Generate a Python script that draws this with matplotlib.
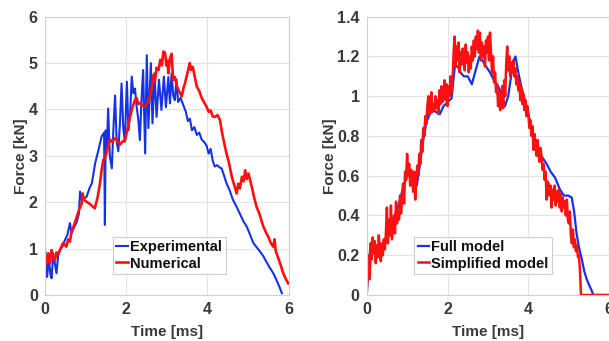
import matplotlib
matplotlib.use("Agg")
import matplotlib.pyplot as plt
import numpy as np

# ---- left panel: experiment vs numerical ----
t_exp = [0.00, 0.02, 0.06, 0.10, 0.14, 0.17, 0.21, 0.25, 0.29, 0.33, 0.38, 0.44, 0.50, 0.56,
         0.62, 0.66, 0.72, 0.79, 0.84, 0.87, 0.91, 0.97, 1.03, 1.10, 1.16, 1.24, 1.32, 1.40,
         1.46, 1.48, 1.50, 1.53, 1.56, 1.60, 1.65, 1.69, 1.73, 1.77, 1.81, 1.85, 1.89, 1.93,
         1.97, 2.02, 2.06, 2.10, 2.14, 2.18, 2.22, 2.26, 2.30, 2.34, 2.38, 2.42, 2.47, 2.51,
         2.55, 2.61, 2.65, 2.70, 2.75, 2.81, 2.87, 2.93, 2.98, 3.04, 3.08, 3.12, 3.16, 3.20,
         3.24, 3.28, 3.34, 3.41, 3.47, 3.52, 3.57, 3.62, 3.68, 3.74, 3.80, 3.86, 3.92, 3.98,
         4.03, 4.08, 4.13, 4.18, 4.24, 4.30, 4.35, 4.40, 4.47, 4.55, 4.63, 4.72, 4.80, 4.88,
         4.97, 5.05, 5.13, 5.22, 5.30, 5.38, 5.46, 5.54, 5.62, 5.70, 5.77, 5.83]
f_exp = [0.00, 0.93, 0.39, 0.80, 0.45, 0.36, 0.90, 0.68, 0.47, 0.85, 0.97, 1.05, 1.19, 1.30,
         1.55, 1.33, 1.45, 1.58, 1.75, 2.23, 2.05, 2.08, 2.12, 2.30, 2.41, 2.84, 3.12, 3.42,
         3.50, 1.51, 3.55, 3.20, 4.02, 3.00, 2.73, 3.60, 4.30, 3.30, 3.10, 3.70, 4.56, 3.63,
         3.30, 4.60, 3.55, 3.90, 4.71, 4.35, 4.45, 4.06, 3.80, 3.34, 4.20, 4.85, 3.05, 5.17,
         3.60, 5.00, 3.70, 4.78, 3.84, 4.64, 3.99, 4.71, 4.05, 4.70, 4.13, 4.78, 4.30, 4.20,
         4.65, 4.16, 4.25, 4.09, 3.95, 3.75, 3.80, 3.55, 3.62, 3.45, 3.50, 3.35, 3.30, 3.22,
         3.05, 3.15, 2.90, 2.77, 2.80, 2.75, 2.73, 2.60, 2.41, 2.25, 2.05, 1.90, 1.75, 1.60,
         1.47, 1.30, 1.12, 1.02, 0.93, 0.83, 0.70, 0.58, 0.47, 0.32, 0.18, 0.04]

t_num = [0.00, 0.03, 0.06, 0.09, 0.13, 0.17, 0.21, 0.25, 0.29, 0.33, 0.38, 0.45, 0.50, 0.53,
         0.58, 0.62, 0.66, 0.72, 0.79, 0.85, 0.91, 0.93, 0.97, 1.03, 1.10, 1.19, 1.23, 1.30,
         1.36, 1.40, 1.44, 1.48, 1.52, 1.57, 1.61, 1.66, 1.72, 1.77, 1.81, 1.85, 1.90, 1.98,
         2.04, 2.10, 2.16, 2.22, 2.26, 2.30, 2.34, 2.40, 2.47, 2.53, 2.59, 2.64, 2.68, 2.71,
         2.75, 2.80, 2.84, 2.88, 2.92, 2.96, 2.99, 3.02, 3.04, 3.08, 3.12, 3.14, 3.16, 3.20,
         3.25, 3.29, 3.33, 3.37, 3.41, 3.45, 3.50, 3.54, 3.57, 3.60, 3.64, 3.68, 3.74, 3.80,
         3.86, 3.92, 3.98, 4.03, 4.08, 4.13, 4.19, 4.25, 4.31, 4.36, 4.42, 4.47, 4.53, 4.60,
         4.65, 4.70, 4.72, 4.76, 4.80, 4.85, 4.89, 4.93, 4.97, 5.01, 5.05, 5.10, 5.15, 5.21,
         5.28, 5.33, 5.38, 5.44, 5.50, 5.56, 5.62, 5.65, 5.68, 5.74, 5.80, 5.86, 5.92, 5.99]
f_num = [0.54, 0.85, 0.70, 0.90, 0.68, 0.97, 0.80, 0.75, 0.92, 0.88, 0.98, 1.12, 1.08, 1.04,
         1.20, 1.15, 1.37, 1.50, 1.69, 1.85, 1.97, 2.19, 2.05, 2.01, 1.97, 1.90, 1.87, 2.10,
         2.41, 2.70, 2.91, 2.95, 3.06, 3.25, 3.35, 3.30, 3.38, 3.35, 3.28, 3.24, 3.30, 3.35,
         3.60, 3.85, 4.05, 4.21, 4.25, 4.12, 4.14, 4.08, 4.06, 4.15, 4.28, 4.50, 4.75, 4.60,
         4.90, 4.85, 5.07, 4.95, 5.25, 5.22, 4.95, 5.05, 4.78, 5.10, 5.20, 4.90, 4.64, 4.70,
         4.50, 4.42, 4.35, 4.28, 4.45, 4.57, 4.75, 4.90, 5.00, 4.85, 4.92, 4.75, 4.49, 4.40,
         4.25, 4.15, 4.06, 3.95, 3.98, 3.85, 3.84, 3.88, 3.77, 3.50, 3.25, 3.05, 2.85, 2.55,
         2.40, 2.25, 2.19, 2.40, 2.30, 2.55, 2.45, 2.69, 2.50, 2.62, 2.48, 2.30, 2.10, 1.90,
         1.75, 1.60, 1.47, 1.35, 1.25, 1.12, 1.04, 1.20, 0.95, 0.80, 0.65, 0.48, 0.36, 0.25]

# ---- right panel: full vs simplified model ----
t_full = [0.00, 0.05, 0.10, 0.15, 0.20, 0.25, 0.30, 0.38, 0.45, 0.52, 0.60, 0.70, 0.80, 0.90,
          1.00, 1.08, 1.16, 1.24, 1.32, 1.40, 1.48, 1.56, 1.64, 1.72, 1.81, 1.90, 2.00, 2.10,
          2.18, 2.25, 2.32, 2.40, 2.50, 2.60, 2.68, 2.79, 2.86, 2.95, 3.05, 3.15, 3.25, 3.35,
          3.42, 3.50, 3.57, 3.63, 3.68, 3.74, 3.82, 3.90, 3.97, 4.05, 4.15, 4.25, 4.35, 4.45,
          4.55, 4.66, 4.78, 4.88, 4.99, 5.07, 5.13, 5.19, 5.25, 5.32, 5.38, 5.44, 5.50, 5.57,
          5.60, 6.00]
f_full = [0.00, 0.15, 0.26, 0.27, 0.25, 0.24, 0.22, 0.25, 0.28, 0.30, 0.34, 0.40, 0.46, 0.54,
          0.60, 0.62, 0.58, 0.55, 0.66, 0.78, 0.87, 0.91, 0.93, 0.92, 0.91, 0.95, 0.97, 0.99,
          1.15, 1.15, 1.12, 1.10, 1.10, 1.06, 1.12, 1.20, 1.18, 1.15, 1.12, 1.08, 1.05, 1.00,
          0.95, 1.00, 1.10, 1.18, 1.20, 1.13, 1.05, 0.99, 0.94, 0.86, 0.78, 0.73, 0.69, 0.66,
          0.62, 0.59, 0.53, 0.50, 0.50, 0.49, 0.42, 0.31, 0.24, 0.18, 0.12, 0.08, 0.05, 0.02,
          0.00, 0.00]

# simplified model, sampled every 0.025 ms from 0 to 5.3 ms
dt_simp = 0.025
f_simp = [0.00, 0.12, 0.20, 0.08, 0.26, 0.18, 0.29, 0.21, 0.27, 0.16,
          0.25, 0.19, 0.30, 0.22, 0.17, 0.26, 0.20, 0.28, 0.23, 0.31,
          0.44, 0.26, 0.38, 0.30, 0.45, 0.28, 0.34, 0.40, 0.31, 0.47,
          0.36, 0.42, 0.38, 0.50, 0.41, 0.48, 0.56, 0.46, 0.62, 0.58,
          0.71, 0.60, 0.66, 0.55, 0.63, 0.58, 0.52, 0.62, 0.48, 0.57,
          0.65, 0.60, 0.71, 0.66, 0.78, 0.72, 0.84, 0.80, 0.90, 0.86,
          0.95, 1.00, 0.91, 0.97, 1.02, 0.92, 0.96, 0.93, 1.00, 0.94,
          0.98, 0.91, 1.03, 0.96, 1.05, 0.97, 1.00, 1.08, 0.98, 1.06,
          0.95, 1.05, 1.00, 1.10, 1.02, 1.08, 1.22, 1.30, 1.15, 1.25,
          1.18, 1.27, 1.12, 1.22, 1.16, 1.24, 1.20, 1.13, 1.26, 1.17,
          1.22, 1.12, 1.20, 1.14, 1.25, 1.18, 1.28, 1.20, 1.30, 1.24,
          1.33, 1.22, 1.32, 1.18, 1.27, 1.20, 1.25, 1.15, 1.28, 1.22,
          1.30, 1.18, 1.32, 1.22, 1.12, 1.20, 1.07, 1.12, 1.02, 1.06,
          0.95, 1.02, 0.93, 0.98, 1.05, 0.94, 1.08, 1.00, 1.16, 1.25,
          1.13, 1.20, 1.10, 1.17, 1.12, 1.18, 1.10, 1.14, 1.06, 1.10,
          1.03, 1.07, 0.98, 1.04, 0.96, 1.01, 0.93, 0.98, 0.90, 0.95,
          0.90, 0.84, 0.88, 0.80, 0.85, 0.73, 0.81, 0.76, 0.70, 0.78,
          0.72, 0.67, 0.74, 0.69, 0.63, 0.66, 0.58, 0.62, 0.48, 0.57,
          0.56, 0.50, 0.55, 0.44, 0.53, 0.48, 0.55, 0.45, 0.52, 0.47,
          0.53, 0.44, 0.51, 0.42, 0.49, 0.44, 0.47, 0.40, 0.48, 0.38,
          0.36, 0.42, 0.30, 0.26, 0.33, 0.24, 0.28, 0.22, 0.25, 0.19,
          0.20, 0.12, 0.00]
t_simp = np.append(np.arange(len(f_simp)) * dt_simp, 6.0)
f_simp = np.append(f_simp, 0.0)

blue = "#1432e6"
red = "#ff1010"
grey_txt = "#3a3a3a"
grid_c = "#e3e3e3"

plt.rcParams['font.family'] = ['Liberation Sans', 'DejaVu Sans']
plt.rcParams['font.weight'] = 'bold'

fig = plt.figure(figsize=(6.09, 3.41), dpi=100)
ax1 = fig.add_axes([0.0734, 0.1349, 0.4007, 0.8161])
ax2 = fig.add_axes([0.6021, 0.1349, 0.3984, 0.8161])

ax1.plot(t_exp, f_exp, color=blue, lw=1.5, label="Experimental")
ax1.plot(t_num, f_num, color=red, lw=1.9, label="Numerical")
ax1.set_ylim(0, 6)
ax1.set_yticks([0, 1, 2, 3, 4, 5, 6])

ax2.plot(t_full, f_full, color=blue, lw=1.6, label="Full model")
ax2.plot(t_simp, f_simp, color=red, lw=1.8, label="Simplified model")
ax2.set_ylim(0, 1.4)
ax2.set_yticks([0, 0.2, 0.4, 0.6, 0.8, 1.0, 1.2, 1.4])
ax2.set_yticklabels(["0", "0.2", "0.4", "0.6", "0.8", "1", "1.2", "1.4"])

for ax, ylx in ((ax1, -0.068), (ax2, -0.122)):
    ax.set_xlim(0, 6)
    ax.set_xticks([0, 2, 4, 6])
    ax.grid(True, color=grid_c, lw=0.8)
    ax.set_axisbelow(True)
    for s in ax.spines.values():
        s.set_color("#d0d0d0")
        s.set_linewidth(0.8)
    ax.tick_params(length=0, labelsize=11.5, labelcolor=grey_txt, pad=5)
    ax.set_xlabel("Time [ms]", fontsize=11, fontweight='bold', color=grey_txt)
    ax.set_ylabel("Force [kN]", fontsize=11, fontweight='bold', color=grey_txt)
    ax.xaxis.set_label_coords(0.5, -0.108)
    ax.yaxis.set_label_coords(ylx, 0.5)

for ax, lx in ((ax1, 0.279), (ax2, 0.195)):
    leg = ax.legend(loc="upper left", bbox_to_anchor=(lx, 0.2095), fontsize=10.5,
                    handlelength=0.8, handletextpad=0.15, labelspacing=0.15,
                    borderpad=0.25, borderaxespad=0, fancybox=False, framealpha=1)
    leg.get_frame().set_edgecolor("#cccccc")
    leg.get_frame().set_linewidth(0.8)
    for txt in leg.get_texts():
        txt.set_color("#111111")

fig.savefig("out.png", dpi=100)
